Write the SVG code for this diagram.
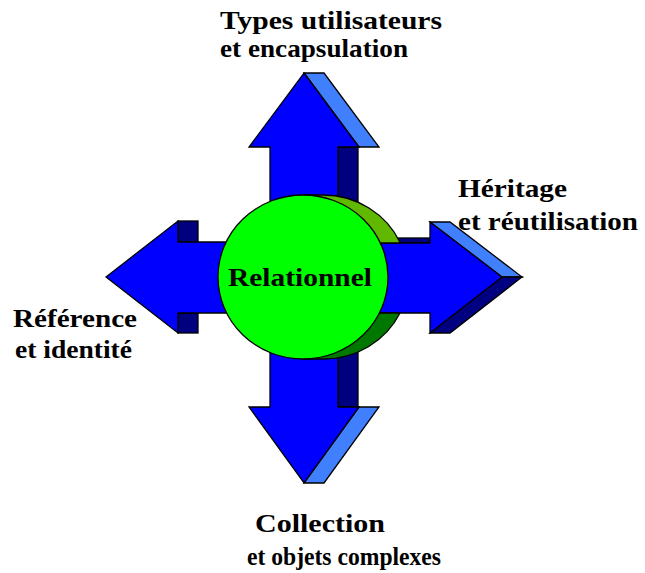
<svg xmlns="http://www.w3.org/2000/svg" width="645" height="573" viewBox="0 0 645 573">
<style>
.ol{stroke:#000;stroke-width:1.3;stroke-linejoin:miter}
.front{fill:#0000FF}
.navy{fill:#000080}
.light{fill:#4080FF}
.lbl{font-family:"Liberation Serif","DejaVu Serif",serif;font-weight:bold;font-size:26px;fill:#000}
</style>
<rect width="645" height="573" fill="#fff"/>
<g id="connectors">
  <g id="arrow-top">
    <polygon class="ol navy" points="338,147 358,147 358,232 338,232"/>
    <polygon class="ol light" points="304,73 324,73 379,147 359,147"/>
    <polygon class="ol front" points="304,73 359,147 338,147 338,232 270,232 270,147 249,147"/>
  </g>
  <g id="arrow-bottom">
    <polygon class="ol navy" points="338,322 358,322 358,407 338,407"/>
    <polygon class="ol light" points="359,407 379,407 324,483 304,483"/>
    <polygon class="ol front" points="270,322 338,322 338,407 359,407 304,483 249,407 270,407"/>
  </g>
  <g id="arrow-left">
    <rect class="ol navy" x="178" y="221" width="20" height="21"/>
    <rect class="ol navy" x="178" y="313" width="20" height="20"/>
    <polygon class="ol front" points="106,277 178,221 178,242 262,242 262,313 178,313 178,333"/>
  </g>
  <g id="arrow-right">
    <rect class="ol navy" x="393" y="238" width="37" height="5"/>
    <polygon class="ol light" points="430,222 450,222 522,277 502,277"/>
    <polygon class="ol navy" points="502,277 522,277 450,333 430,333"/>
    <polygon class="ol front" points="345,243 430,243 430,222 502,277 430,333 430,313 345,313"/>
  </g>
</g>
<g id="node-relationnel">
  <path class="ol" fill="#60B800" d="M303,195 L323,195 A85,82 0 0 1 400.3,243 L303,243 Z"/>
  <path class="ol" fill="#007800" d="M303,359 L323,359 A85,82 0 0 0 400,313 L303,313 Z"/>
  <ellipse class="ol" cx="303" cy="277" rx="85" ry="82" fill="#00FF00"/>
  <text class="lbl" x="228" y="286" textLength="144" lengthAdjust="spacingAndGlyphs">Relationnel</text>
</g>
<g id="label-top">
  <text class="lbl" x="220" y="29" textLength="222" lengthAdjust="spacingAndGlyphs">Types utilisateurs</text>
  <text class="lbl" x="220" y="57" textLength="188" lengthAdjust="spacingAndGlyphs">et encapsulation</text>
</g>
<g id="label-right">
  <text class="lbl" x="458" y="197" textLength="109" lengthAdjust="spacingAndGlyphs">Héritage</text>
  <text class="lbl" x="458" y="230" textLength="180" lengthAdjust="spacingAndGlyphs">et réutilisation</text>
</g>
<g id="label-left">
  <text class="lbl" x="13" y="327" textLength="124" lengthAdjust="spacingAndGlyphs">Référence</text>
  <text class="lbl" x="15" y="358" textLength="117" lengthAdjust="spacingAndGlyphs">et identité</text>
</g>
<g id="label-bottom">
  <text class="lbl" x="255" y="532" textLength="130" lengthAdjust="spacingAndGlyphs">Collection</text>
  <text class="lbl" x="247" y="565" textLength="194" lengthAdjust="spacingAndGlyphs">et objets complexes</text>
</g>
</svg>
